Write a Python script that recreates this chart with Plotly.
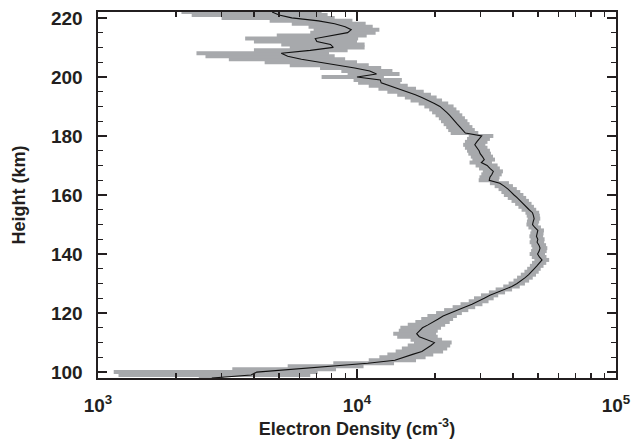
import plotly.graph_objects as go

# Height (km), one sample per km
heights = list(range(98, 223))

# Electron density (10^3 cm^-3) read from the black profile
density_k = [
    2.75, 3.9, 4.1, 5.8, 8.0, 11.0, 14.0, 15.3, 16.4, 17.8,
    18.6, 19.3, 19.9, 18.7, 17.4, 17.0, 17.5, 17.9, 18.8, 19.8,
    20.6, 21.5, 22.8, 24.3, 26.0, 27.8, 29.6, 31.0, 32.6, 34.8,
    37.0, 39.6, 41.5, 43.2, 44.6, 46.0, 47.3, 48.3, 49.5, 50.6,
    51.8, 50.6, 49.8, 50.5, 50.9, 50.4, 49.6, 49.9, 49.3, 49.6,
    49.9, 48.6, 47.6, 47.9, 48.3, 48.0, 47.6, 46.2, 45.1, 44.0,
    42.8, 41.6, 40.4, 39.4, 38.3, 37.0, 35.6, 32.4, 32.6, 33.2,
    33.6, 32.6, 31.8, 30.2, 31.0, 30.5, 29.9, 29.6, 29.0, 28.5,
    29.0, 29.6, 30.3, 26.2, 25.5, 25.0, 24.4, 23.9, 23.4, 22.8,
    22.2, 21.6, 20.9, 19.9, 18.7, 17.8, 16.8, 15.6, 14.5, 13.4,
    12.4, 12.3, 10.0, 11.9, 11.2, 9.8, 8.3, 7.2, 6.1, 5.4,
    5.1, 6.6, 8.1, 7.9, 7.0, 6.9, 7.9, 9.2, 9.5, 9.0,
    8.2, 7.1, 5.6, 5.0, 4.7,
]

# Uncertainty (10^3 cm^-3), drawn as grey horizontal bars
sigma_k = [
    0.3, 2.7, 2.95, 2.5, 2.6, 2.9, 2.9, 3.1, 3.3, 3.7,
    3.7, 3.6, 3.3, 2.6, 3.1, 3.2, 3.0, 3.2, 3.1, 3.0,
    2.9, 2.8, 2.6, 2.6, 2.6, 2.7, 2.6, 2.7, 2.5, 2.5,
    2.7, 2.9, 3.0, 3.0, 3.1, 3.1, 3.0, 2.9, 3.0, 3.2,
    3.4, 3.3, 3.4, 3.5, 3.4, 3.3, 3.2, 3.1, 3.0, 2.9,
    2.8, 2.7, 2.5, 2.6, 2.7, 2.8, 2.9, 3.0, 3.1, 3.2,
    3.3, 3.4, 3.5, 3.3, 3.1, 3.0, 3.0, 2.9, 2.9, 3.0,
    3.0, 3.0, 3.1, 3.0, 3.1, 3.0, 3.0, 3.0, 2.9, 2.8,
    2.9, 3.0, 3.3, 3.2, 3.0, 2.9, 2.8, 2.8, 2.7, 2.7,
    2.7, 2.6, 2.7, 2.6, 2.6, 2.5, 2.5, 2.5, 2.4, 2.3,
    2.3, 2.6, 2.7, 2.7, 2.5, 2.6, 2.8, 2.8, 2.9, 2.8,
    2.7, 2.6, 2.6, 2.8, 3.0, 3.2, 3.0, 2.6, 2.7, 2.5,
    2.6, 2.5, 2.6, 2.7, 2.6,
]

x_tick_vals = [1e3, 1e4, 1e5]
x_tick_text = ["<b>10<sup>3</sup></b>", "<b>10<sup>4</sup></b>", "<b>10<sup>5</sup></b>"]
y_tick_vals = [100, 120, 140, 160, 180, 200, 220]
y_tick_text = ["<b>%d</b>" % v for v in y_tick_vals]

density = [v * 1000 for v in density_k]
sigma = [v * 1000 for v in sigma_k]

FONT = "Liberation Sans, Arial, sans-serif"
AXC = "#231f20"

fig = go.Figure()
fig.add_trace(go.Scatter(
    x=density, y=heights, mode="markers",
    marker=dict(size=1, color="rgba(0,0,0,0)"),
    error_x=dict(type="data", array=sigma, symmetric=True,
                 color="#a7a9ac", thickness=4, width=0),
    hoverinfo="skip", showlegend=False,
))
fig.add_trace(go.Scatter(
    x=density, y=heights, mode="lines",
    line=dict(color="#111111", width=1.1),
    showlegend=False,
))

axis_common = dict(
    showline=True, linecolor=AXC, linewidth=1.6, mirror="ticks",
    ticks="inside", tickcolor=AXC, tickwidth=1.4, ticklen=9,
    showgrid=False, zeroline=False, automargin=False,
    tickfont=dict(family=FONT, size=19, color=AXC),
)

fig.update_xaxes(
    type="log", range=[3, 5],
    tickvals=x_tick_vals, ticktext=x_tick_text,
    minor=dict(ticks="inside", ticklen=5, tickwidth=1.2, tickcolor=AXC,
               dtick="D1", showgrid=False),
    title=dict(text="<b>Electron Density (cm<sup>-3</sup>)</b>",
               font=dict(family=FONT, size=18, color=AXC), standoff=4),
    ticklabelstandoff=10,
    **axis_common,
)
fig.update_yaxes(
    range=[98, 222],
    tickvals=y_tick_vals, ticktext=y_tick_text,
    minor=dict(ticks="inside", ticklen=5, tickwidth=1.2, tickcolor=AXC,
               dtick=5, tick0=100, showgrid=False),
    title=dict(text="<b>Height (km)</b>",
               font=dict(family=FONT, size=18, color=AXC), standoff=20),
    ticklabelstandoff=10,
    **axis_common,
)

fig.update_layout(
    width=643, height=441,
    margin=dict(l=98, r=27, t=12, b=63),
    plot_bgcolor="white", paper_bgcolor="white",
)

fig.write_html("out.html", config={"displayModeBar": False, "staticPlot": True})

# remove the browser's default page margin so the figure sits at the top-left
with open("out.html", "r", encoding="utf-8") as f:
    html = f.read()
html = html.replace("<body>", '<body style="margin:0;padding:0;">', 1)
html = html.replace("<head>", "<head><style>html,body{margin:0;padding:0;}</style>", 1)
with open("out.html", "w", encoding="utf-8") as f:
    f.write(html)
